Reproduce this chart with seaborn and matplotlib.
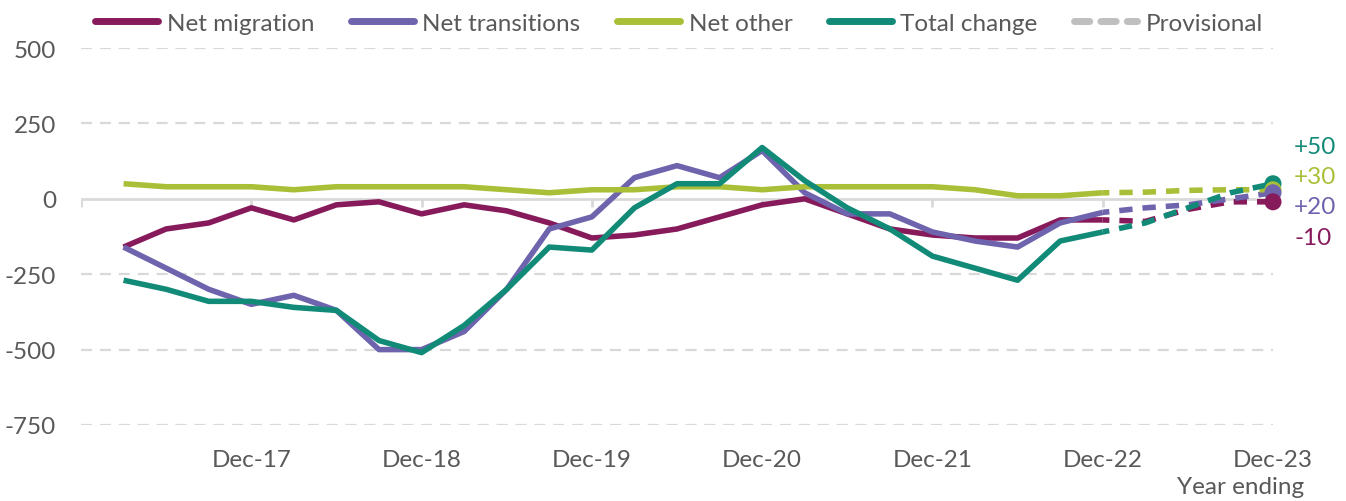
import numpy as np
import pandas as pd
import matplotlib
matplotlib.use("Agg")
import matplotlib.pyplot as plt
from matplotlib.lines import Line2D
import seaborn as sns

# ---------------- data ----------------
quarters = ["Mar-17", "Jun-17", "Sep-17", "Dec-17", "Mar-18", "Jun-18", "Sep-18", "Dec-18",
            "Mar-19", "Jun-19", "Sep-19", "Dec-19", "Mar-20", "Jun-20", "Sep-20", "Dec-20",
            "Mar-21", "Jun-21", "Sep-21", "Dec-21", "Mar-22", "Jun-22", "Sep-22", "Dec-22",
            "Mar-23", "Jun-23", "Sep-23", "Dec-23"]
n_final = 24  # quarters up to Dec-22 are final; after that provisional

net_migration = [-160, -100, -80, -30, -70, -20, -10, -50, -20, -40, -80, -130, -120, -100,
                 -60, -20, 0, -50, -100, -120, -130, -130, -70, -70, -75, -35, -10, -10]
net_transitions = [-160, -230, -300, -350, -320, -370, -500, -500, -440, -300, -100, -60, 70,
                   110, 70, 160, 20, -50, -50, -110, -140, -160, -80, -45, -30, -20, 0, 20]
net_other = [50, 40, 40, 40, 30, 40, 40, 40, 40, 30, 20, 30, 30, 40, 40, 30, 40, 40, 40, 40,
             30, 10, 10, 20, 22, 28, 30, 30]
total_change = [-270, -300, -340, -340, -360, -370, -470, -510, -420, -300, -160, -170, -30,
                50, 50, 170, 60, -30, -100, -190, -230, -270, -140, -110, -80, -30, 20, 50]
end_labels = [-10, 20, 30, 50]  # order: migration, transitions, other, total

series_names = ["Net migration", "Net transitions", "Net other", "Total change"]
series_values = [net_migration, net_transitions, net_other, total_change]
colors = ["#871a5b", "#6d64ad", "#a9bf38", "#128a78"]

x_tick_labels = ["Dec-17", "Dec-18", "Dec-19", "Dec-20", "Dec-21", "Dec-22", "Dec-23"]
y_ticks = [500, 250, 0, -250, -500, -750]

# ---------------- build table ----------------
rows = []
for name, vals in zip(series_names, series_values):
    for i, (q, v) in enumerate(zip(quarters, vals)):
        rows.append({"series": name, "quarter": q, "pos": i + 1, "value": v})
df = pd.DataFrame(rows)

# ---------------- style ----------------
sns.set_theme(style="white")
plt.rcParams["font.family"] = ["Lato", "DejaVu Sans"]
text_color = "#595959"
grid_color = "#d9d9d9"
fs = 17.5

W, H = 1346, 502
fig = plt.figure(figsize=(W / 100, H / 100), dpi=100)
ax = fig.add_axes([81 / W, 1 - 426 / H, (1273 - 81) / W, (426 - 49) / H])

# gridlines
for yv in y_ticks:
    if yv == 0:
        ax.axhline(0, color=grid_color, lw=2.0, zorder=1)
    else:
        ax.axhline(yv, color=grid_color, lw=1.6, ls=(0, (5, 3.5)), zorder=1)

lw = 4.0
for name, col, lab in zip(series_names, colors, end_labels):
    sub = df[df["series"] == name]
    fin = sub[sub["pos"] <= n_final]
    prov = sub[sub["pos"] >= n_final]
    sns.lineplot(data=fin, x="pos", y="value", color=col, lw=lw, ax=ax,
                 solid_capstyle="butt", solid_joinstyle="round", zorder=3, clip_on=False)
    sns.lineplot(data=prov, x="pos", y="value", color=col, lw=lw, ax=ax,
                 linestyle=(1.2, (2.4, 1.8)), dash_capstyle="butt", zorder=3, clip_on=False)

# end dots
for name, col in zip(["Total change", "Net other", "Net transitions", "Net migration"],
                     [colors[3], colors[2], colors[1], colors[0]]):
    last = df[(df["series"] == name) & (df["pos"] == len(quarters))]
    sns.scatterplot(data=last, x="pos", y="value", color=col, s=150, edgecolor="none",
                    ax=ax, zorder=5, clip_on=False)

# end labels
label_offsets = {"Total change": 37, "Net other": 13, "Net transitions": -14, "Net migration": -36}
for name, col, lab in zip(series_names, colors, end_labels):
    v = df[(df["series"] == name) & (df["pos"] == len(quarters))]["value"].iloc[0]
    ax.annotate(f"{lab:+d}", xy=(len(quarters), v), xytext=(21, label_offsets[name]),
                textcoords="offset pixels", color=col, fontsize=fs, ha="left", va="center",
                annotation_clip=False)

# axes
ax.set_xlim(0, len(quarters))
ax.set_ylim(-750, 500)
ax.set_yticks(y_ticks)
ax.set_yticklabels([str(v) for v in y_ticks])
ax.set_xticks(np.arange(4, len(quarters) + 1, 4))
ax.set_xticklabels(x_tick_labels)
ax.tick_params(axis="x", length=0, pad=17, labelsize=fs, labelcolor=text_color)
ax.tick_params(axis="y", length=0, pad=18, labelsize=fs, labelcolor=text_color)
for s in ax.spines.values():
    s.set_visible(False)
ax.set_xlabel("")
ax.set_ylabel("")

# small tick marks on the zero line
tick_len = 8 / (377 / 1250)
ax.vlines(np.arange(0, len(quarters) + 1, 4), -tick_len, 0, color=grid_color, lw=2.0, zorder=1)

fig.text(1304 / W, 1 - 488 / H, "Year ending", ha="right", va="center", fontsize=fs,
         color=text_color)

# legend
handles = [Line2D([0], [0], color=c, lw=5, solid_capstyle="round") for c in colors]
handles.append(Line2D([0], [0], color="#bfbfbf", lw=5, ls=(0, (2.2, 1.6)), dash_capstyle="round"))
labels = series_names + ["Provisional"]
leg = fig.legend(handles, labels, loc="center", bbox_to_anchor=(679 / W, 1 - 24 / H), ncol=5,
                 frameon=False, fontsize=fs, handlelength=2.6, handletextpad=0.35,
                 columnspacing=1.5, labelcolor=text_color)
if ax.get_legend() is not None:
    ax.get_legend().remove()

fig.savefig("out.png", dpi=100)
